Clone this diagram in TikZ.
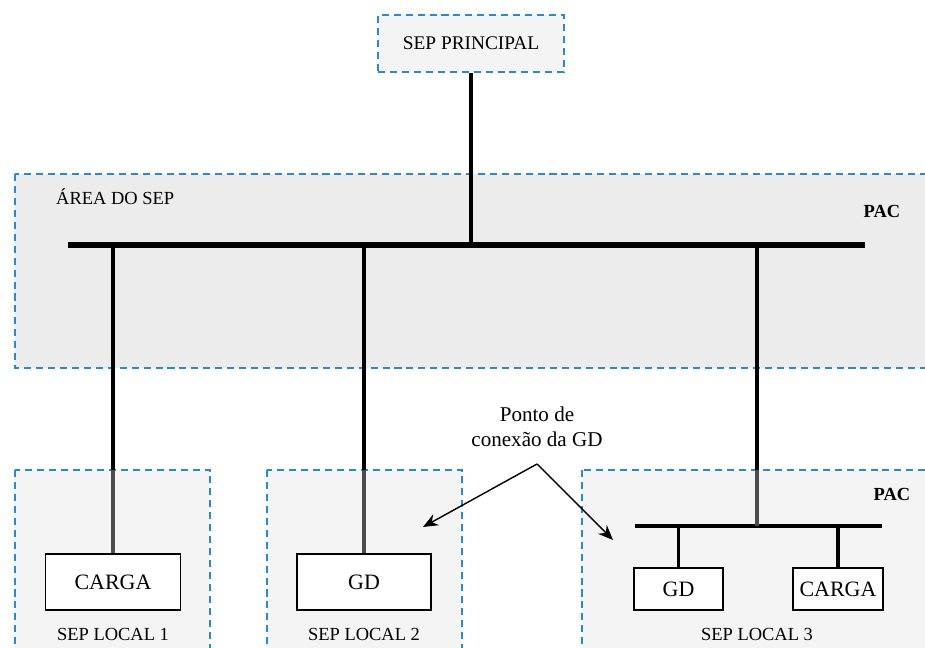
\documentclass[tikz,border=0pt]{standalone}
\usepackage{fontspec}
\setmainfont{Liberation Serif}
\usetikzlibrary{arrows.meta,positioning}
\definecolor{sepblue}{RGB}{42,138,203}
\definecolor{areagray}{RGB}{236,236,236}
\definecolor{localgray}{RGB}{244,244,244}

\tikzset{
  region/.style={draw=sepblue,line width=1.1pt,dash pattern=on 4pt off 2.8pt},
  bus/.style={line width=3pt},
  feeder/.style={line width=2.3pt},
  tap/.style={line width=1.9pt},
  unit/.style={draw,line width=0.8pt,fill=white,inner sep=0pt,font=\fontsize{12.5}{14}\selectfont},
  tag/.style={font=\fontsize{10.5}{12}\selectfont},
  pac/.style={font=\fontsize{10.5}{12}\selectfont\bfseries}
}

\begin{document}
\begin{tikzpicture}[x=0.02cm,y=-0.02cm]
\useasboundingbox (0,0) rectangle (925,648);
\clip (0,0) rectangle (925,648);

% areas
\filldraw[region,fill=areagray] (15,174) rectangle (940,368);
\filldraw[region,fill=localgray] (15,470) rectangle (210,660);
\filldraw[region,fill=localgray] (267,470) rectangle (462,660);
\filldraw[region,fill=localgray] (582,470) rectangle (940,660);

\node[region,fill=localgray,minimum width=3.72cm,minimum height=1.14cm,inner sep=0pt,
  font=\fontsize{11}{13}\selectfont] (principal) at (471,43.5) {SEP PRINCIPAL};
\node[tag,anchor=west] (area) at (50,197) {ÁREA DO SEP};
\node[pac] (pacA) at (882,211) {PAC};

% main bus
\coordinate (busL) at (68,245);
\coordinate (busR) at (865,245);
\draw[bus] (busL) -- (busR);
\draw[feeder] (principal.south) -- (principal.south |- busL);

% local units
\node[unit,minimum width=2.7cm,minimum height=1.12cm] (carga1) at (113,582) {CARGA};
\node[unit,minimum width=2.68cm,minimum height=1.12cm] (gd2) at (364,582) {GD};
\node[tag] (local1) at (113,634) {SEP LOCAL 1};
\node[tag] (local2) at (364,634) {SEP LOCAL 2};
\node[tag] (local3) at (757,634) {SEP LOCAL 3};

% local 3 bus
\coordinate (subL) at (635,526);
\coordinate (subR) at (882,526);
\coordinate (subT) at (757,526);
\draw[bus,line width=2.8pt] (subL) -- (subR);
\node[pac] (pacB) at (892,494) {PAC};
\node[unit,minimum width=1.78cm,minimum height=0.84cm] (gd3) at (678.5,589) {GD};
\node[unit,minimum width=1.8cm,minimum height=0.84cm] (carga3) at (838,589) {CARGA};
\draw[tap] (gd3.north) -- (gd3.north |- subL);
\draw[tap] (carga3.north) -- (carga3.north |- subL);

% feeders
\coordinate (top1) at (113,470);
\coordinate (top2) at (364,470);
\coordinate (top3) at (757,470);
\draw[feeder] (top1 |- busL) -- (top1);
\draw[feeder,black!70] (top1) -- (carga1.north);
\draw[feeder] (top2 |- busL) -- (top2);
\draw[feeder,black!70] (top2) -- (gd2.north);
\draw[feeder] (top3 |- busL) -- (top3);
\draw[feeder,black!70] (top3) -- (subT);

% connection point
\node[align=center,font=\fontsize{12}{14}\selectfont] (ponto) at (537,427) {Ponto de\\conexão da GD};
\coordinate (apex) at (537,464);
\coordinate (tipA) at (423,527);
\coordinate (tipB) at (613,540);
\draw[line width=0.8pt,-{Stealth[length=8.5pt,width=7pt]}] (apex) -- (tipA);
\draw[line width=0.8pt,-{Stealth[length=8.5pt,width=7pt]}] (apex) -- (tipB);
\end{tikzpicture}
\end{document}
